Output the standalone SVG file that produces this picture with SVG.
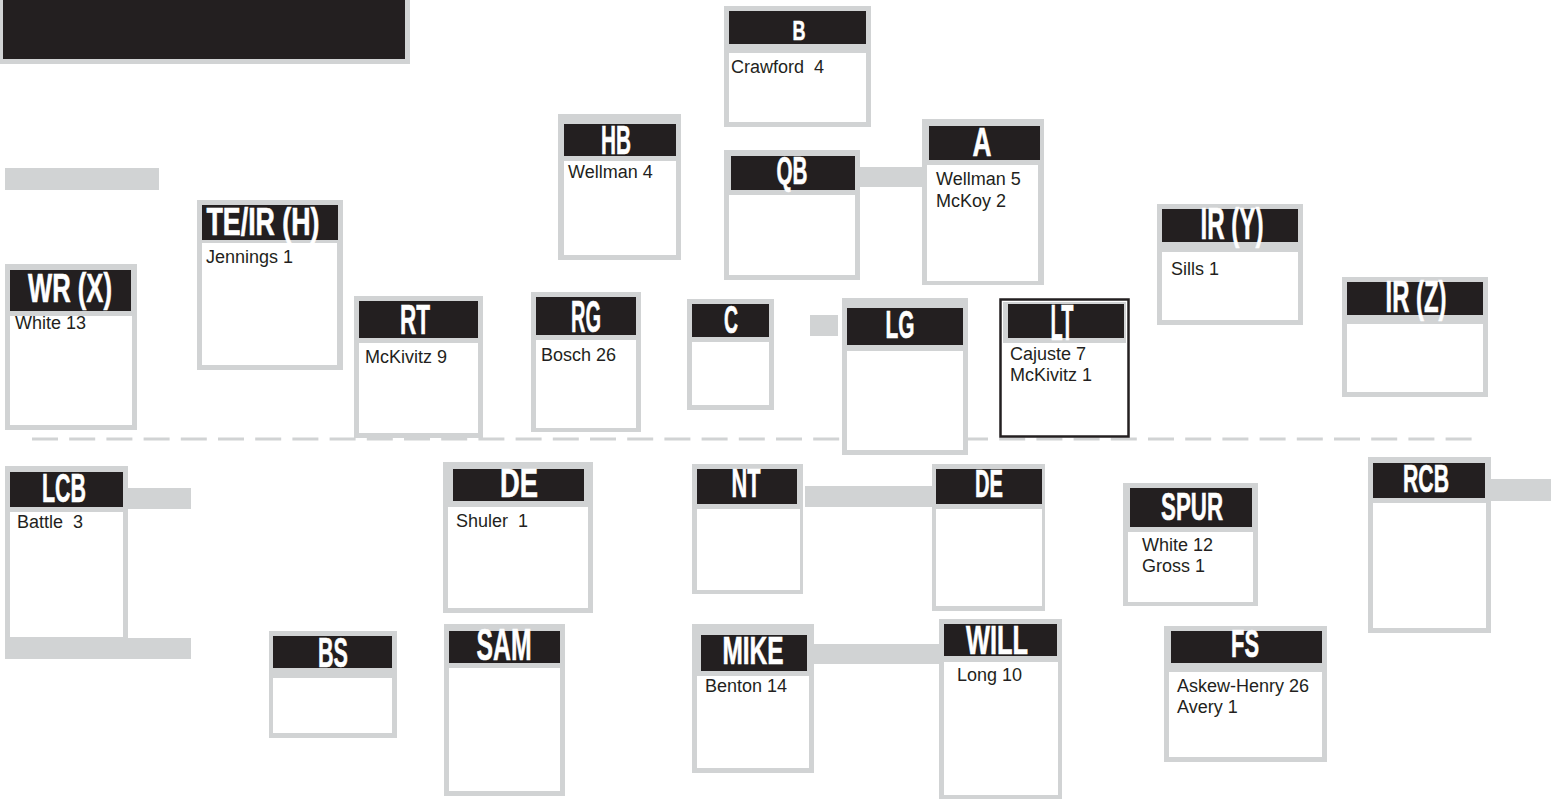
<svg xmlns="http://www.w3.org/2000/svg" width="1551" height="802" viewBox="0 0 1551 802">
<style>
.o{fill:#d1d3d4}
.w{fill:#ffffff}
.h{fill:#231f20}
.bar{fill:#d1d3d4}
.hl{font-family:"Liberation Sans","Arial",sans-serif;font-weight:bold;fill:#ffffff;stroke:#ffffff;stroke-width:0.6;text-anchor:middle}
.t{font-family:"Liberation Sans","Arial",sans-serif;font-size:18px;fill:#231f20}
</style>
<rect width="1551" height="802" fill="#ffffff"/>
<g id="title">
<rect x="0" y="0" width="410" height="64" class="o"/>
<rect x="3" y="0" width="402" height="59" class="h"/>
</g>
<g id="connectors">
<rect x="5" y="168" width="154" height="22" class="bar"/>
<rect x="860" y="167" width="82" height="20" class="bar"/>
<rect x="810" y="315" width="28" height="21" class="bar"/>
<rect x="805" y="486" width="127" height="21" class="bar"/>
<rect x="814" y="644" width="129" height="20" class="bar"/>
<rect x="128" y="488" width="63" height="21" class="bar"/>
<rect x="5" y="638" width="186" height="21" class="bar"/>
<rect x="1491" y="479" width="60" height="22" class="bar"/>
<line x1="32" y1="439" x2="1472" y2="439" stroke="#d1d3d4" stroke-width="3" stroke-dasharray="26 11.2"/>
</g>
<g id="n-b">
<rect x="724" y="6" width="147" height="121" class="o"/><rect x="729" y="53" width="137" height="69" class="w"/><rect x="729" y="11" width="137" height="33" class="h"/>
<text x="799" y="40" class="hl" font-size="27" textLength="13" lengthAdjust="spacingAndGlyphs">B</text>
<text x="731" y="73" class="t" xml:space="preserve">Crawford  4</text>
</g>
<g id="n-hb">
<rect x="558" y="114" width="123" height="146" class="o"/><rect x="564" y="161" width="112" height="94" class="w"/><rect x="564" y="124" width="112" height="32" class="h"/>
<text x="616" y="154" class="hl" font-size="40" textLength="30" lengthAdjust="spacingAndGlyphs">HB</text>
<text x="568" y="178" class="t">Wellman 4</text>
</g>
<g id="n-qb">
<rect x="724" y="150" width="136" height="130" class="o"/><rect x="729" y="195" width="126" height="80" class="w"/><rect x="731" y="156" width="124" height="34" class="h"/>
<text x="792" y="184" class="hl" font-size="39" textLength="31" lengthAdjust="spacingAndGlyphs">QB</text>
</g>
<g id="n-a">
<rect x="922" y="119" width="122" height="166" class="o"/><rect x="927" y="165" width="111" height="116" class="w"/><rect x="929" y="126" width="111" height="34" class="h"/>
<text x="982" y="156" class="hl" font-size="40" textLength="19" lengthAdjust="spacingAndGlyphs">A</text>
<text x="936" y="185" class="t">Wellman 5</text>
<text x="936" y="207" class="t">McKoy 2</text>
</g>
<g id="n-teir">
<rect x="197" y="200" width="146" height="170" class="o"/><rect x="202" y="243" width="135" height="122" class="w"/><rect x="202" y="205" width="136" height="35" class="h"/>
<text x="263" y="235" class="hl" font-size="38" textLength="113" lengthAdjust="spacingAndGlyphs">TE/IR (H)</text>
<text x="206" y="263" class="t">Jennings 1</text>
</g>
<g id="n-wr">
<rect x="5" y="264" width="132" height="166" class="o"/><rect x="10" y="316" width="122" height="109" class="w"/><rect x="10" y="270" width="121" height="41" class="h"/>
<text x="70" y="302" class="hl" font-size="40" textLength="84" lengthAdjust="spacingAndGlyphs">WR (X)</text>
<text x="15" y="329" class="t">White 13</text>
</g>
<g id="n-rt">
<rect x="354" y="296" width="129" height="142" class="o"/><rect x="359" y="343" width="119" height="90" class="w"/><rect x="359" y="301" width="119" height="37" class="h"/>
<text x="415" y="334" class="hl" font-size="43" textLength="30" lengthAdjust="spacingAndGlyphs">RT</text>
<text x="365" y="363" class="t">McKivitz 9</text>
</g>
<g id="n-rg">
<rect x="531" y="292" width="110" height="140" class="o"/><rect x="536" y="340" width="100" height="88" class="w"/><rect x="536" y="297" width="100" height="38" class="h"/>
<text x="586" y="332" class="hl" font-size="44" textLength="30" lengthAdjust="spacingAndGlyphs">RG</text>
<text x="541" y="361" class="t">Bosch 26</text>
</g>
<g id="n-c">
<rect x="687" y="299" width="87" height="111" class="o"/><rect x="692" y="342" width="77" height="63" class="w"/><rect x="692" y="304" width="77" height="33" class="h"/>
<text x="731" y="333" class="hl" font-size="38" textLength="14" lengthAdjust="spacingAndGlyphs">C</text>
</g>
<g id="n-lg">
<rect x="842" y="298" width="126" height="157" class="o"/><rect x="847" y="351" width="116" height="99" class="w"/><rect x="847" y="308" width="116" height="37" class="h"/>
<text x="900" y="338" class="hl" font-size="39" textLength="29" lengthAdjust="spacingAndGlyphs">LG</text>
</g>
<g id="n-lt">
<rect x="1000.5" y="299.5" width="128" height="137" fill="#ffffff" stroke="#231f20" stroke-width="2.5"/>
<rect x="1003" y="302" width="123" height="41" class="o"/><rect x="1008" y="304" width="116" height="34" class="h"/>
<text x="1062" y="340" class="hl" font-size="50" textLength="23" lengthAdjust="spacingAndGlyphs">LT</text>
<text x="1010" y="360" class="t">Cajuste 7</text>
<text x="1010" y="381" class="t">McKivitz 1</text>
</g>
<g id="n-iry">
<rect x="1157" y="204" width="146" height="121" class="o"/><rect x="1162" y="252" width="136" height="68" class="w"/><rect x="1162" y="209" width="136" height="33" class="h"/>
<text x="1232" y="239" class="hl" font-size="45" textLength="63" lengthAdjust="spacingAndGlyphs">IR (Y)</text>
<text x="1171" y="275" class="t">Sills 1</text>
</g>
<g id="n-irz">
<rect x="1342" y="277" width="146" height="120" class="o"/><rect x="1347" y="324" width="136" height="68" class="w"/><rect x="1347" y="282" width="136" height="33" class="h"/>
<text x="1416" y="312" class="hl" font-size="45" textLength="61" lengthAdjust="spacingAndGlyphs">IR (Z)</text>
</g>
<g id="n-lcb">
<rect x="5" y="466" width="123" height="172" class="o"/><rect x="10" y="512" width="113" height="125" class="w"/><rect x="10" y="472" width="113" height="35" class="h"/>
<text x="64" y="502" class="hl" font-size="40" textLength="44" lengthAdjust="spacingAndGlyphs">LCB</text>
<text x="17" y="528" class="t" xml:space="preserve">Battle  3</text>
</g>
<g id="n-de1">
<rect x="443" y="462" width="150" height="151" class="o"/><rect x="448" y="507" width="140" height="101" class="w"/><rect x="453" y="469" width="131" height="32" class="h"/>
<text x="519" y="497" class="hl" font-size="40" textLength="38" lengthAdjust="spacingAndGlyphs">DE</text>
<text x="456" y="527" class="t" xml:space="preserve">Shuler  1</text>
</g>
<g id="n-bs">
<rect x="269" y="631" width="128" height="107" class="o"/><rect x="273" y="678" width="119" height="55" class="w"/><rect x="273" y="636" width="119" height="32" class="h"/>
<text x="333" y="667" class="hl" font-size="43" textLength="30" lengthAdjust="spacingAndGlyphs">BS</text>
</g>
<g id="n-sam">
<rect x="444" y="624" width="121" height="172" class="o"/><rect x="449" y="668" width="111" height="123" class="w"/><rect x="449" y="631" width="111" height="32" class="h"/>
<text x="504" y="660" class="hl" font-size="44" textLength="55" lengthAdjust="spacingAndGlyphs">SAM</text>
</g>
<g id="n-nt">
<rect x="692" y="464" width="111" height="130" class="o"/><rect x="697" y="509" width="103" height="81" class="w"/><rect x="697" y="469" width="100" height="35" class="h"/>
<text x="746" y="497" class="hl" font-size="40" textLength="29" lengthAdjust="spacingAndGlyphs">NT</text>
</g>
<g id="n-de2">
<rect x="932" y="464" width="113" height="147" class="o"/><rect x="936" y="509" width="106" height="97" class="w"/><rect x="936" y="469" width="106" height="35" class="h"/>
<text x="989" y="497" class="hl" font-size="39" textLength="28" lengthAdjust="spacingAndGlyphs">DE</text>
</g>
<g id="n-mike">
<rect x="692" y="624" width="122" height="149" class="o"/><rect x="697" y="676" width="112" height="92" class="w"/><rect x="701" y="635" width="106" height="36" class="h"/>
<text x="753" y="664" class="hl" font-size="38" textLength="61" lengthAdjust="spacingAndGlyphs">MIKE</text>
<text x="705" y="692" class="t">Benton 14</text>
</g>
<g id="n-will">
<rect x="939" y="619" width="123" height="180" class="o"/><rect x="944" y="662" width="114" height="133" class="w"/><rect x="944" y="624" width="113" height="32" class="h"/>
<text x="997" y="654" class="hl" font-size="40" textLength="62" lengthAdjust="spacingAndGlyphs">WILL</text>
<text x="957" y="681" class="t">Long 10</text>
</g>
<g id="n-spur">
<rect x="1123" y="483" width="135" height="123" class="o"/><rect x="1128" y="532" width="125" height="70" class="w"/><rect x="1130" y="488" width="122" height="39" class="h"/>
<text x="1192" y="520" class="hl" font-size="39" textLength="62" lengthAdjust="spacingAndGlyphs">SPUR</text>
<text x="1142" y="551" class="t">White 12</text>
<text x="1142" y="572" class="t">Gross 1</text>
</g>
<g id="n-fs">
<rect x="1164" y="626" width="163" height="136" class="o"/><rect x="1169" y="672" width="153" height="85" class="w"/><rect x="1171" y="631" width="151" height="32" class="h"/>
<text x="1245" y="657" class="hl" font-size="38" textLength="28" lengthAdjust="spacingAndGlyphs">FS</text>
<text x="1177" y="692" class="t">Askew-Henry 26</text>
<text x="1177" y="713" class="t">Avery 1</text>
</g>
<g id="n-rcb">
<rect x="1368" y="457" width="123" height="176" class="o"/><rect x="1373" y="503" width="113" height="125" class="w"/><rect x="1373" y="463" width="112" height="35" class="h"/>
<text x="1426" y="492" class="hl" font-size="38" textLength="46" lengthAdjust="spacingAndGlyphs">RCB</text>
</g>
</svg>
